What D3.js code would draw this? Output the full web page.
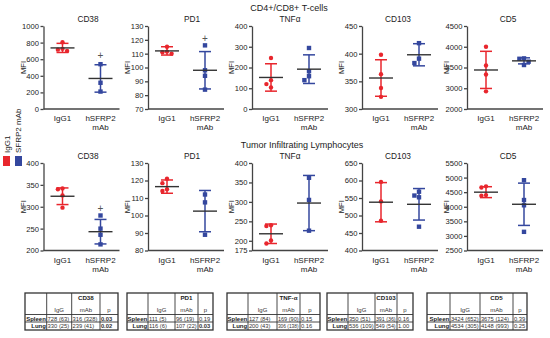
<!DOCTYPE html>
<html>
<head>
<meta charset="utf-8">
<script src="https://cdn.jsdelivr.net/npm/d3@7"></script>
<style>
  body { margin: 0; background: #fff; }
  svg { display: block; }
</style>
</head>
<body>
<script>
const groups = ["IgG1", "hSFRP2 mAb"];
const markers = ["CD38", "PD1", "TNFα", "CD103", "CD5"];
const rowTitles = ["CD4+/CD8+ T-cells", "Tumor Infiltrating Lymphocytes"];

// CD4+/CD8+ T-cells (top row)
const tcIgG  = [[805, 725, 715, 700], [115, 111.5, 111, 110], [246, 139, 120, 104], [398, 363, 338, 322], [4000, 3550, 3330, 2850]];
const tcMab  = [[540, 316, 210], [116, 98, 94, 84], [294, 182, 158, 139], [419, 391, 383], [3720, 3710, 3640, 3560]];
const tcMean = [[736, 368], [112, 98], [152, 192], [356, 398], [3440, 3660]];
const tcSd   = [[55, 165], [3, 13.5], [66, 69], [33, 20], [450, 73]];
const tcSig  = [640, 121, null, null, null];
const tcTicks = [[0, 200, 400, 600, 800, 1000], [70, 80, 90, 100, 110, 120, 130], [0, 100, 200, 300, 400], [300, 350, 400, 450], [2000, 3000, 3500, 4000, 4500]];

// Tumor infiltrating lymphocytes (bottom row)
const tilIgG  = [[342, 340, 326, 298], [121, 118.5, 115, 114], [240, 238, 201, 193], [596, 540, 485], [4700, 4660, 4400, 4380]];
const tilMab  = [[280, 250, 236, 214], [112, 107.5, 89], [362, 305, 226], [568, 557, 552, 468], [4910, 4230, 4050, 3140]];
const tilMean = [[324, 243], [116.5, 102.5], [218, 297], [538, 532], [4500, 4085]];
const tilSd   = [[19, 28], [3.8, 11.8], [25, 71], [56, 45], [187, 725]];
const tilSig  = [297, null, null, null, null];
const tilTicks = [[200, 250, 300, 350, 400], [80, 90, 100, 110, 120, 130], [175, 200, 250, 300, 350, 400], [400, 450, 500, 550, 600, 650], [2500, 3000, 3500, 4000, 4500, 5000, 5500]];

// summary tables
const tableTitles = ["CD38", "PD1", "TNF-α", "CD103", "CD5"];
const tableRows = ["Spleen", "Lung"];
const tableCols = ["IgG", "mAb", "p"];
const spleenVals = [["728 (63)", "316 (328)", "0.03"], ["111 (5)", "96 (19)", "0.19"], ["127 (84)", "169 (90)", "0.15"], ["350 (51)", "391 (36)", "0.16"], ["3424 (652)", "3675 (124)", "0.39"]];
const lungVals = [["330 (25)", "239 (41)", "0.02"], ["116 (6)", "107 (22)", "0.03"], ["200 (43)", "306 (138)", "0.16"], ["536 (109)", "549 (54)", "1.00"], ["4534 (305)", "4148 (993)", "0.25"]];

const W = 550, H = 338;
const red = "#e8262d", blue = "#34479e", axisColor = "#444";
const font = "'Liberation Sans', Arial, sans-serif";

const svg = d3.select("body").append("svg")
  .attr("width", W)
  .attr("height", H)
  .style("font-family", font);

const colX = [43.5, 148, 252, 362, 467];
const titleX = [88, 192, 290, 398, 508];
const plotW = 76;
const rowLayout = [
  { top: 26, bottom: 109, headX: 289, headY: 10.5 },
  { top: 163, bottom: 250.5, headX: 302, headY: 147.5 }
];

// spread equal values sideways like a scatter dot plot
function spread(vals, y, cx, size) {
  const placed = [];
  return vals.map(v => {
    const py = y(v);
    const offs = [0, -size, size, -2 * size, 2 * size];
    let ox = offs.find(o => placed.every(p => Math.hypot(p[0] - (cx + o), p[1] - py) >= size));
    if (ox === undefined) ox = 0;
    placed.push([cx + ox, py]);
    return [cx + ox, py];
  });
}

function panel(r, i, igg, mab, mean, sd, sig, ticks, even) {
  const L = rowLayout[r];
  const ax = colX[i];
  const g = svg.append("g");

  let y;
  if (even) {
    // axis with break: ticks evenly spaced
    const n = ticks.length;
    y = d3.scaleLinear().domain(ticks)
      .range(ticks.map((t, k) => L.bottom - k * (L.bottom - L.top) / (n - 1)));
  } else {
    y = d3.scaleLinear().domain([ticks[0], ticks[ticks.length - 1]]).range([L.bottom, L.top]);
  }
  const x = d3.scalePoint().domain(groups).range([ax, ax + plotW]).padding(0.5);

  g.append("g")
    .attr("transform", "translate(" + ax + ",0)")
    .call(d3.axisLeft(y).tickValues(ticks).tickSize(3).tickSizeOuter(0).tickPadding(1.5).tickFormat(d3.format("d")))
    .call(a => a.selectAll("path,line").attr("stroke", axisColor).attr("stroke-width", 1.3))
    .call(a => a.selectAll("text").attr("font-size", 7.6).attr("fill", "#222").attr("font-family", font));

  g.append("g")
    .attr("transform", "translate(0," + L.bottom + ")")
    .call(d3.axisBottom(x).tickSize(0).tickSizeOuter(0).tickFormat(""))
    .call(a => a.select("path").attr("d", "M" + ax + ",0H" + (ax + plotW)).attr("stroke", axisColor).attr("stroke-width", 1.3));

  // category labels
  groups.forEach(gr => {
    const t = g.append("text")
      .attr("x", x(gr))
      .attr("y", L.bottom + 12)
      .attr("text-anchor", "middle")
      .attr("font-size", 8)
      .attr("fill", "#222");
    gr.split(" ").forEach((w, k) => {
      t.append("tspan").attr("x", x(gr)).attr("dy", k ? 9 : 0).text(w);
    });
  });

  g.append("text")
    .attr("x", titleX[i])
    .attr("y", r === 0 ? 22 : 158.5)
    .attr("text-anchor", "middle")
    .attr("font-size", 8.3)
    .attr("fill", "#222")
    .text(markers[i]);

  g.append("text")
    .attr("transform", "translate(" + (ax - 18) + "," + ((L.top + L.bottom) / 2) + ") rotate(-90)")
    .attr("text-anchor", "middle")
    .attr("font-size", 7.6)
    .attr("fill", "#222")
    .text("MFI");

  const sets = [igg, mab];
  const colors = [red, blue];
  sets.forEach((vals, k) => {
    const cx = x(groups[k]);
    const c = colors[k];
    const lo = y(mean[k] - sd[k]), hi = y(mean[k] + sd[k]);
    g.append("line").attr("x1", cx).attr("x2", cx).attr("y1", lo).attr("y2", hi)
      .attr("stroke", c).attr("stroke-width", 1.5);
    [lo, hi].forEach(v => g.append("line").attr("x1", cx - 6).attr("x2", cx + 6).attr("y1", v).attr("y2", v)
      .attr("stroke", c).attr("stroke-width", 1.5));

    const pts = spread(vals, y, cx, 4.6);
    if (k === 0) {
      g.selectAll(null).data(pts).enter().append("circle")
        .attr("cx", d => d[0]).attr("cy", d => d[1]).attr("r", 2.2).attr("fill", c);
    } else {
      g.selectAll(null).data(pts).enter().append("rect")
        .attr("x", d => d[0] - 2.2).attr("y", d => d[1] - 2.2)
        .attr("width", 4.4).attr("height", 4.4).attr("fill", c);
    }

    g.append("line").attr("x1", cx - 12).attr("x2", cx + 12)
      .attr("y1", y(mean[k])).attr("y2", y(mean[k]))
      .attr("stroke", "#333").attr("stroke-width", 1.4);
  });

  if (sig[i] != null) {
    g.append("text")
      .attr("x", x(groups[1]))
      .attr("y", y(sig[i]) + 3.5)
      .attr("text-anchor", "middle")
      .attr("font-size", 10)
      .attr("fill", "#555")
      .text("+");
  }
}

markers.forEach((m, i) => {
  panel(0, i, tcIgG[i], tcMab[i], tcMean[i], tcSd[i], tcSig, tcTicks[i], i === 4);
  panel(1, i, tilIgG[i], tilMab[i], tilMean[i], tilSd[i], tilSig, tilTicks[i], false);
});

rowLayout.forEach((L, r) => {
  svg.append("text")
    .attr("x", L.headX).attr("y", L.headY)
    .attr("text-anchor", "middle")
    .attr("font-size", 9)
    .attr("fill", "#222")
    .text(rowTitles[r]);
});

// legend
svg.append("text")
  .attr("transform", "translate(9.5,153) rotate(-90)")
  .attr("font-size", 8).attr("fill", "#222")
  .text("IgG1");
svg.append("text")
  .attr("transform", "translate(21,153) rotate(-90)")
  .attr("font-size", 8).attr("fill", "#222")
  .text("SFRP2 mAb");
svg.append("rect").attr("x", 3).attr("y", 156).attr("width", 7).attr("height", 10).attr("fill", red);
svg.append("rect").attr("x", 15).attr("y", 156).attr("width", 7).attr("height", 10).attr("fill", blue);

// tables
const tblX = [25, 127, 227, 327, 427];
const tblCols = [[21.7, 25, 28.3, 18], [21, 27, 23, 15], [21, 29, 23, 20], [21, 27, 22, 16], [23, 30, 33, 14]];
const tblY = [293, 314.5, 322, 330];

// shrink a cell text so it stays inside its cell
function fit(sel, maxW) {
  const w = sel.node().getComputedTextLength();
  if (w > maxW) sel.attr("font-size", (+sel.attr("font-size")) * maxW / w);
  return sel;
}

tableTitles.forEach((t, i) => {
  const g = svg.append("g");
  const xs = [tblX[i]];
  tblCols[i].forEach(w => xs.push(xs[xs.length - 1] + w));
  const x0 = xs[0], x1 = xs[xs.length - 1];

  xs.slice(1, -1).forEach(v => g.append("line").attr("x1", v).attr("x2", v).attr("y1", tblY[0]).attr("y2", tblY[3])
    .attr("stroke", "#333").attr("stroke-width", 0.9));
  [tblY[1], tblY[2]].forEach(v => g.append("line").attr("x1", x0).attr("x2", x1).attr("y1", v).attr("y2", v)
    .attr("stroke", "#333").attr("stroke-width", 0.9));
  g.append("rect").attr("x", x0).attr("y", tblY[0]).attr("width", x1 - x0).attr("height", tblY[3] - tblY[0])
    .attr("fill", "none").attr("stroke", "#333").attr("stroke-width", 1.3);

  g.append("text")
    .attr("x", (xs[2] + xs[3]) / 2).attr("y", 299.5)
    .attr("text-anchor", "middle").attr("font-size", 6.2).attr("font-weight", "bold").attr("fill", "#222")
    .text(t);
  tableCols.forEach((c, k) => g.append("text")
    .attr("x", (xs[k + 1] + xs[k + 2]) / 2).attr("y", 312)
    .attr("text-anchor", "middle").attr("font-size", 6).attr("fill", "#333")
    .text(c));

  [spleenVals[i], lungVals[i]].forEach((vals, r) => {
    const by = tblY[r + 1] + 6;
    fit(g.append("text")
      .attr("x", xs[1] - 0.8).attr("y", by)
      .attr("text-anchor", "end").attr("font-size", 6).attr("font-weight", "bold").attr("fill", "#222")
      .text(tableRows[r]), xs[1] - xs[0] - 1.2);
    vals.forEach((v, k) => fit(g.append("text")
      .attr("x", xs[k + 1] + 0.9).attr("y", by)
      .attr("font-size", 5.8)
      .attr("font-weight", k === 2 && +v < 0.05 ? "bold" : "normal")
      .attr("fill", "#333")
      .text(v), xs[k + 2] - xs[k + 1] - 2.2));
  });
});
</script>
</body>
</html>
